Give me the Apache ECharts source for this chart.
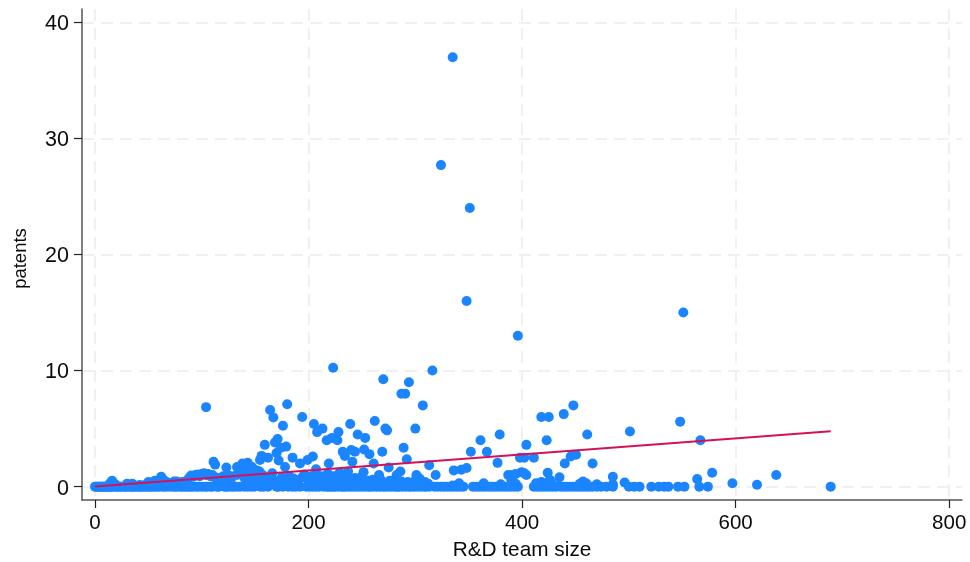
<!DOCTYPE html>
<html><head><meta charset="utf-8">
<style>html,body{margin:0;padding:0;background:#fff}#c{width:970px;height:562px}</style>
<script src="https://cdn.jsdelivr.net/npm/echarts@6/dist/echarts.min.js"></script>
</head><body><div id="c"></div>
<script>
const xTicks = [0, 200, 400, 600, 800];
const yTicks = [0, 10, 20, 30, 40];
const xTitle = 'R&D team size';
const yTitle = 'patents';

// team size of the firms with zero patents
const zeroPatentSizes = [0,1,2,3,4,5,6,7,8,9,10,11,12,13,14,15,16,18,20,21,23,24,26,28,29,31,33,35,36,38,40,42,43,45,47,49,51,52,54,56,58,60,63,65,67,70,73,75,77,80,82,84,86,88,90,92,95,97,100,103,105,108,110,114,116,121,123,125,128,130,133,136,140,143,146,149,155,158,162,170,172,176,181,185,188,192,198,201,204,207,210,214,217,219,221,223,225,228,231,233,235,238,241,244,247,250,253,256,258,261,264,267,270,272,275,278,281,283,285,288,291,294,296,299,302,305,308,310,313,318,321,324,327,330,333,336,339,342,345,354,357,360,363,366,369,372,375,378,381,384,387,390,393,396,411,414,417,420,423,426,429,432,436,439,442,445,448,451,454,457,460,463,466,470,474,479,485,500,505,510,521,528,533,537,546,552,566,574,689];

// firms with at least some patents
const patentPoints = [
[335,37],[324,27.7],[351,24],[348,16],[396,13],[551,15],[223,10.25],[316,10],[270,9.25],[294,9],[287,8],[290.5,8],[307,7],[448,7],[104,6.85],[180,7.1],[164,6.6],[167,5.95],[194,6],[176,5.25],[205,5.4],[213,5],[208,4.7],[228,4.7],[217,4],[222,4.2],[227,4],[171,4.1],[168.5,3.8],[159,3.6],[179,3.45],[174,3.35],[170,2.9],[172,2.25],[185,2.5],[162,2.5],[156,2.65],[154.5,2.3],[204,2.6],[199,2.3],[192,2],[178,1.7],[219,2],[166,1.15],[207,1.5],
[239,5.4],[262,5.66],[272,5],[273.5,4.85],[300,5],[246,4.5],[253,4.2],[289,3.35],[292,2.35],[269,3],[252,3.2],[257,2.8],[240,3.15],[243.5,3],[232,3],[234,2.65],[241,2.15],[261,2],[275,1.65],[313,1.85],[266,1],[319,1],[336,1.4],[343,1.45],[348,1.6],[251.5,1.25],[237,1.3],[243.5,.75],[286,1.3],[282.5,1],[281,.55],[301,1],[304,.7],[309,.4],[293,.4],[256,.5],[341,.3],[335,.1],
[352,3],[361,4],[367,3],[379,4.5],[377,2.05],[398,2.5],[402,2.5],[404,3.6],[411,2.5],[423,4],[418,6],[425,6],[439,6.25],[461,4.5],[501,4.75],[445.5,2.6],[448,2.75],[450.5,2.75],[440,2],[466,2],[548,5.6],[567,4],
[387,1],[390.5,1],[394,1.1],[399.5,1.25],[404,1],[402,1.15],[424,1.2],[435,.8],[457,.45],[418,.4],[426,.6],[422,.3],[390,.55],[364,.3],[470,.2],[485,.85],[485,.2],[496,.35],[564,.65],[578,1.2],[597,.3],[620,.17],[638,1],[413,.3],[428,.25],[454,.25],[460,.3],[380,.2],[394,.25],
[16,.5],[14,.3],[19,.2],[30,.25],[35,.25],[33,.15],[42,.15],[50,.4],[48,.2],[56,.5],[54,.3],[60,.6],[62,.85],[64,.6],[67,.4],[70,.3],[74,.45],[76.5,.45],[79,.35],[82,.4],[84,.25],[86,.5],[88,.75],[90,.95],[92,.85],[94,1],[96,1.05],[98,.9],[100,1.1],[102,1.15],[104,1],[106,1.1],[108,.9],[110,1],[112,.8],[115,.75],[118,.7],[111,2.15],[112.5,1.9],[123,1.65],[120,.9],[124,1],[128,.9],[133,1],[136,1.1],
[133,1.7],[138,2],[143,2.05],[147,1.7],[151.5,1.4],[141,1.5],[145,1.2],[150,1.05],[154,1.3],[157,1],[160,.7],[140,.75],[144,.5],[148,.3],[152,.5],[127,.5],[122,.3],[118,.3],[163,.6],[168,.5],[165,.25],[172,.35],[175,.8],[178,.6],[182,.9],[186,.7],[190,.5],[194,.8],[196,1.05],[200,.6],[203,.9],[206,.35],[209,.7],[212,.9],[215,.4],[218,1.1],[220,.6],[224,.9],[226,.4],[229,1.2],[231,.7],[234,.4],[238,.7],[240,.35],[246,.5],[249,.8],[254,.35],[260,.6],[264,.3],[268,.55],[272,.25],[276,.5],[279,.25],[287,.45],[290,.25],[297,.3],[300,.55],[306,.3],[312,.25]
];

// fitted line end points
const fitLine = [[0, 0.02], [689, 4.77]];

const series = zeroPatentSizes.map(x => [x, 0]).concat(patentPoints);
const grid = {show:true, lineStyle:{color:'#f0f0f0', width:2, type:[12,7]}};
const lineCol = '#555555';
const chart = echarts.init(document.getElementById('c'), null, {renderer:'canvas'});
chart.setOption({
  animation:false,
  backgroundColor:'#ffffff',
  textStyle:{fontFamily:'"Liberation Sans", Arial, sans-serif'},
  grid:{left:82, right:8, top:9, bottom:62, outerBoundsMode:'none'},
  xAxis:{
    type:'value', min:-12.2, max:812,
    name:xTitle, nameLocation:'middle', nameGap:40,
    nameTextStyle:{fontSize:20.8, color:'#0a0a0a'},
    axisLine:{show:true, onZero:false, lineStyle:{color:lineCol, width:1.5}},
    axisTick:{show:true, length:8, lineStyle:{color:'#222', width:1.2}, customValues:xTicks},
    axisLabel:{fontSize:20.5, color:'#0a0a0a', margin:13, customValues:xTicks, showMinLabel:true, showMaxLabel:true},
    splitLine:grid
  },
  yAxis:{
    type:'value', min:-1.15, max:41.15,
    name:yTitle, nameLocation:'middle', nameGap:52,
    nameTextStyle:{fontSize:18.5, color:'#0a0a0a', padding:[0,8,0,0]},
    axisLine:{show:true, onZero:false, lineStyle:{color:lineCol, width:1.5}},
    axisTick:{show:true, length:8, lineStyle:{color:'#222', width:1.2}, customValues:yTicks},
    axisLabel:{color:'#0a0a0a', margin:13, customValues:yTicks, formatter:'{t|{value}}',
      rich:{t:{fontSize:21.5, color:'#0a0a0a', padding:[4,0,0,0]}}},
    splitLine:grid
  },
  series:[
    {type:'scatter', data:series, symbol:'circle', symbolSize:10, itemStyle:{color:'#1A85FF', opacity:1}, silent:true, large:false},
    {type:'line', data:fitLine, symbol:'none', lineStyle:{color:'#D41159', width:2}, silent:true, z:5}
  ]
});
</script></body></html>
